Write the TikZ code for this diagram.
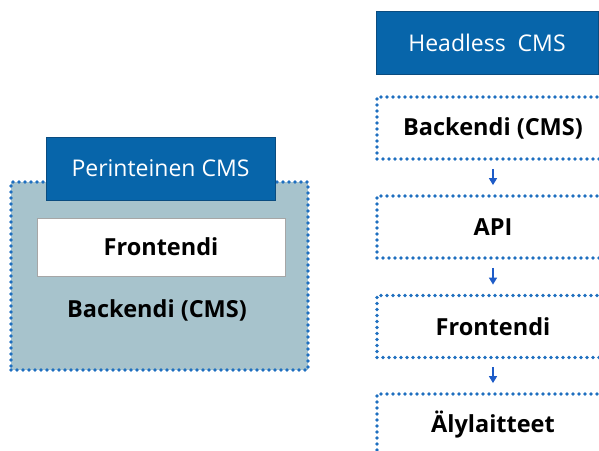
\documentclass[tikz,border=0pt]{standalone}
\usepackage{fontspec}
\setmainfont{Open Sans}
\usetikzlibrary{arrows.meta}
\definecolor{hdrblue}{HTML}{0765AA}
\definecolor{hdredge}{HTML}{0A4C80}
\definecolor{dotblue}{HTML}{1E6FC0}
\definecolor{panel}{HTML}{A7C3CC}
\definecolor{arrblue}{HTML}{1E5CC8}
\tikzset{
  header/.style={draw=hdredge, line width=0.8pt, fill=hdrblue, text=white, font=\fontsize{23}{27}\selectfont, inner sep=0pt},
  dotbox/.style={draw=dotblue, line width=3.8pt, line cap=round, dash pattern=on 0pt off 6pt, inner sep=0pt},
  label/.style={font=\bfseries\fontsize{23.5}{27}\selectfont, text=black, inner sep=0pt},
  flowarrow/.style={draw=arrblue, line width=1.5pt, -{Triangle[width=8pt,length=7pt]}, shorten <=8pt, shorten >=9pt}
}
\begin{document}
\begin{tikzpicture}[x=1pt,y=-1pt]
\useasboundingbox (0,0) rectangle (599,450);
\fill[white] (0,0) rectangle (599,450);
% left: traditional CMS
\node[dotbox, fill=panel, minimum width=297pt, minimum height=188pt] (outer) at (159.5,276) {};
\node[header, minimum width=229pt, minimum height=63pt] (perint) at (160.5,168.5) {Perinteinen CMS};
\node[draw=gray!70, line width=0.8pt, fill=white, label, minimum width=248pt, minimum height=58pt] (front) at (161,247) {Frontendi};
\node[label] (back) at (157,310) {Backendi (CMS)};
% right: headless CMS
\node[header, minimum width=222pt, minimum height=63pt] (headless) at (487,42.5) {Headless\ \ CMS};
\node[dotbox, label, minimum width=232pt, minimum height=62pt] (rback) at (493,128) {Backendi (CMS)};
\node[dotbox, label, minimum width=232pt, minimum height=62pt] (api) at (493,227) {API};
\node[dotbox, label, minimum width=232pt, minimum height=62pt] (rfront) at (493,326.5) {Frontendi};
\node[dotbox, label, minimum width=232pt, minimum height=62pt] (devices) at (493,425) {Älylaitteet};
\draw[flowarrow] (rback.south) -- (api.north);
\draw[flowarrow] (api.south) -- (rfront.north);
\draw[flowarrow] (rfront.south) -- (devices.north);
\end{tikzpicture}
\end{document}
